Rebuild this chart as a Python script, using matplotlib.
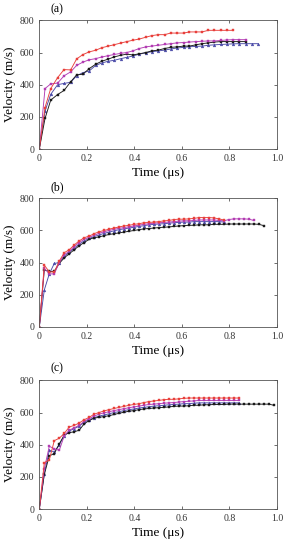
import matplotlib
matplotlib.use("Agg")
import matplotlib.pyplot as plt

plt.rcParams["font.family"] = ["Liberation Serif", "DejaVu Serif"]
plt.rcParams["mathtext.fontset"] = "stix"

# time grids (us)
t_a = [0, .024, .048, .077, .104, .132, .157, .183, .21, .237, .263, .288, .316, .343,
       .368, .393, .421, .448, .473, .501, .527, .553, .579, .607, .632, .659, .684, .712,
       .737, .764, .789, .815, .842, .868, .895, .92]
t_bc = [0, .021, .042, .063, .084, .105, .126, .147, .168, .189, .21, .231, .252, .273,
        .294, .315, .336, .357, .378, .399, .42, .441, .462, .483, .504, .525, .546, .567,
        .588, .609, .63, .651, .672, .693, .714, .735, .756, .777, .798, .819, .84, .861,
        .882, .903, .924, .945, .966, .987]

# panel (a) velocities (m/s)
a_red = [0, 258, 376, 444, 494, 492, 560, 587, 604, 614, 630, 639, 649, 659, 668, 676,
         684, 695, 705, 711, 711, 721, 721, 721, 728, 728, 728, 738, 738, 738, 738, 738]
a_mag = [0, 376, 405, 410, 455, 480, 520, 540, 555, 562, 572, 580, 588, 595, 600, 610,
         625, 635, 640, 645, 650, 655, 660, 662, 665, 668, 670, 672, 672, 675, 678, 680,
         680, 680]
a_blue = [0, 235, 340, 400, 408, 415, 455, 475, 485, 520, 535, 545, 552, 562, 570, 578,
          590, 598, 605, 610, 615, 622, 628, 632, 636, 638, 640, 645, 648, 650, 652, 654,
          655, 655, 655, 655]
a_black = [0, 190, 304, 339, 364, 418, 461, 465, 500, 527, 546, 558, 573, 583, 590, 585,
           592, 600, 610, 615, 625, 632, 635, 640, 640, 648, 655, 660, 665, 668, 668, 668,
           668, 668]

# panel (b)
b_red = [0, 385, 342, 342, 410, 462, 480, 510, 535, 555, 565, 580, 592, 600, 608, 615,
         622, 628, 632, 638, 642, 648, 650, 652, 655, 660, 662, 668, 670, 670, 672, 675,
         680, 680, 680, 678, 672, 665]
b_mag = [0, 365, 330, 330, 400, 450, 470, 500, 525, 545, 558, 570, 582, 592, 600, 607,
         613, 618, 623, 628, 633, 638, 642, 645, 648, 650, 652, 655, 658, 660, 660, 662,
         665, 665, 665, 665, 662, 660, 668, 672, 672, 672, 670, 662]
b_blue = [0, 230, 330, 395, 400, 440, 465, 490, 515, 535, 550, 562, 572, 582, 590, 598,
          605, 610, 615, 620, 625, 630, 635, 638, 640, 642, 645, 648, 650, 652, 652, 655,
          655, 655, 655, 655, 655, 652]
b_black = [0, 355, 345, 345, 395, 430, 455, 480, 505, 525, 545, 555, 560, 568, 575, 580,
           585, 590, 595, 600, 605, 610, 612, 615, 618, 620, 622, 625, 628, 630, 632, 632,
           635, 635, 635, 638, 638, 638, 640, 640, 640, 640, 640, 640, 638, 630]

# panel (c)
c_red = [0, 288, 305, 425, 440, 470, 510, 520, 535, 555, 570, 590, 600, 610, 618, 625,
         632, 638, 645, 650, 655, 662, 668, 672, 675, 680, 682, 682, 685, 688, 690, 690,
         690, 690, 690, 690, 690, 690, 690, 690, 690]
c_mag = [0, 250, 390, 375, 365, 455, 490, 505, 520, 545, 562, 578, 590, 598, 605, 612,
         618, 624, 630, 635, 640, 645, 650, 652, 655, 658, 660, 662, 665, 668, 670, 672,
         675, 675, 675, 675, 675, 675, 675, 675, 675]
c_blue = [0, 220, 365, 355, 400, 455, 485, 500, 515, 540, 555, 568, 578, 585, 592, 600,
          605, 612, 618, 622, 628, 632, 636, 640, 642, 645, 648, 650, 652, 655, 655, 658,
          660, 660, 660, 660, 660, 660, 660, 660, 660]
c_black = [0, 215, 330, 345, 405, 460, 475, 480, 490, 530, 550, 565, 570, 575, 580, 588,
           595, 602, 608, 612, 618, 622, 625, 628, 630, 632, 635, 638, 640, 640, 642, 645,
           645, 648, 648, 650, 650, 650, 652, 652, 652, 652, 652, 652, 652, 652, 652, 645]

panels = [
    ("(a)", t_a, [a_blue, a_black, a_mag, a_red]),
    ("(b)", t_bc, [b_blue, b_black, b_mag, b_red]),
    ("(c)", t_bc, [c_blue, c_black, c_mag, c_red]),
]
colors = ["#4a4aa8", "#1a1a1a", "#b23cb2", "#e8403c"]
markers = ["^", "s", "s", "s"]

fig = plt.figure(figsize=(2.88, 5.5), dpi=100)
bottoms = [0.729, 0.4055, 0.0745]
label_y = [9, 187, 368]

for i, (label, t, series) in enumerate(panels):
    ax = fig.add_axes([0.1365, bottoms[i], 0.825, 0.234])
    for v, c, m in zip(series, colors, markers):
        ax.plot(t[:len(v)], v, color=c, marker=m, markersize=2.0, linewidth=0.65,
                markeredgewidth=0.3)
    ax.set_xlim(0, 1.0)
    ax.set_ylim(0, 800)
    ax.set_xticks([0, 0.2, 0.4, 0.6, 0.8, 1.0])
    ax.set_xticklabels(["0", "0.2", "0.4", "0.6", "0.8", "1.0"])
    ax.set_yticks([0, 200, 400, 600, 800])
    ax.tick_params(direction="in", top=True, right=True, labelsize=7, length=2,
                   width=0.5, pad=3.5, colors="#333333")
    for s in ax.spines.values():
        s.set_linewidth(0.6)
        s.set_color("#555555")
    ax.set_xlabel("Time (μs)", fontsize=9.5, labelpad=3)
    ax.set_ylabel("Velocity (m/s)", fontsize=9.5, labelpad=3)
    fig.text(57 / 288, 1 - label_y[i] / 550, label, fontsize=8.5, ha="center", va="center")

fig.savefig("out.png", dpi=100)
